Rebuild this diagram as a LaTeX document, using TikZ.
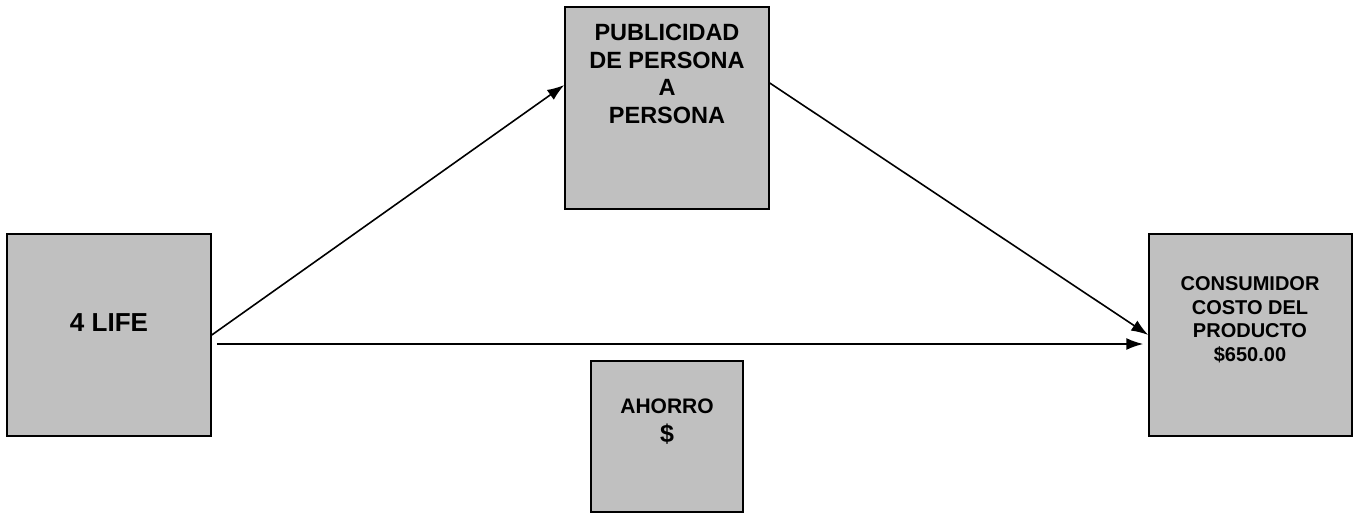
\documentclass[tikz,border=0pt]{standalone}
\usepackage{fontspec}
\setmainfont{Liberation Sans}
\usetikzlibrary{arrows.meta}
\tikzset{
  box/.style={draw=black, line width=1.5pt, fill=boxgray, inner sep=0pt},
  txt/.style={align=center, font=\bfseries, inner sep=0pt}
}
\definecolor{boxgray}{RGB}{192,192,192}
\begin{document}
\begin{tikzpicture}[x=1pt,y=-1pt]
      \useasboundingbox (0,0) rectangle (1356,512);
      \node[box, minimum width=204pt, minimum height=202pt] (life) at (109,335) {};
      \node[box, minimum width=204pt, minimum height=202pt] (pub) at (667,108) {};
      \node[box, minimum width=203pt, minimum height=202pt] (cons) at (1250.5,335) {};
      \node[box, minimum width=152pt, minimum height=151pt] (ahorro) at (667,436.5) {};
      \node[txt, font=\bfseries\fontsize{26}{30}\selectfont] (lifetxt) at (109,323) {4 LIFE};
      \node[txt, font=\bfseries\fontsize{23.5}{27.5}\selectfont] (pubtxt) at (667,74) {PUBLICIDAD\\DE PERSONA\\A\\PERSONA};
      \node[txt, font=\bfseries\fontsize{20}{23.5}\selectfont] (constxt) at (1250,320) {CONSUMIDOR\\COSTO DEL\\PRODUCTO\\\$650.00};
      \node[txt, font=\bfseries\fontsize{21}{29}\selectfont] (ahorrotxt) at (667,422) {AHORRO\\{\fontsize{25}{29}\selectfont\$}};
      \begin{scope}[line width=1.6pt, -{Latex[length=17pt,width=12pt]}]
        \draw (life.east) to ([yshift=23pt]pub.west);
        \draw ([yshift=25pt]pub.east) to (cons.west);
        \draw ([shift={(5,9)}]life.east) to ([shift={(-5,9)}]cons.west);
      \end{scope}
    \end{tikzpicture}
\end{document}
